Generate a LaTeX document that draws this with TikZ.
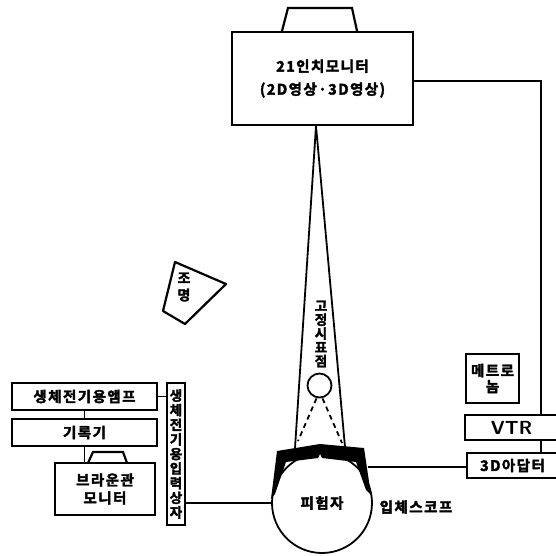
\documentclass[tikz,border=0pt]{standalone}
\usepackage{fontspec}
\newfontfamily\kr[FakeBold=2.5,LetterSpace=10]{Noto Sans CJK KR Bold}
\usetikzlibrary{calc}

\begin{document}
\begin{tikzpicture}[x=1pt,y=-1pt,
	box/.style={draw,line width=2.2pt,inner sep=0pt,align=center,font=\kr\fontsize{14.5}{16}\selectfont},
	lbl/.style={inner sep=0pt,align=center,font=\kr\fontsize{14.5}{16}\selectfont},
	wire/.style={line width=1.8pt},
	ring/.style={draw,circle,line width=1.8pt,inner sep=0pt}]

	\useasboundingbox (0,0) rectangle (556,556);
	\clip (0,0) rectangle (556,556);


	\node[box,minimum width=181,minimum height=93] (monitor) at (322.5,78.5) {21인치모니터\\[7pt](2D영상·3D영상)};
	\draw[line width=2.2pt] (282,31) -- (288,8) -- (352,8) -- (357,31);

	\draw[line width=2.2pt,line join=round] (175,262) -- (226,284) -- (185,324) -- (163,311) -- cycle;
	\node[lbl,font=\kr\fontsize{14}{17}\selectfont] (light) at (184,287) {조\\명};


	\coordinate (apex) at (316,126);
	\coordinate (coneL) at (295,448);
	\coordinate (coneR) at (345,447);
	\draw[wire] (coneL) -- (apex) -- (coneR);
	\node[lbl,font=\kr\fontsize{13.5}{13.8}\selectfont] (target) at (321,334) {고\\정\\시\\표\\점};
	\node[ring,minimum size=24] (fix) at (319.5,385.5) {};
	\coordinate (eyeL) at (298,441);
	\coordinate (eyeR) at (342,443);
	\draw[wire,dash pattern=on 5pt off 4pt] ([xshift=-3pt]fix.south) -- (eyeL);
	\draw[wire,dash pattern=on 5pt off 4pt] ([xshift=3pt]fix.south) -- (eyeR);


	\node[ring,minimum size=100] (subject) at (322,503) {\kr\fontsize{14.5}{16}\selectfont 피험자};
	\fill (271,499) -- (277,451) -- (320,444) -- (364,448) -- (371,495) -- (366,490)
		-- (356,462) -- (322,458) -- (320,454) -- (318,458) -- (286,462) -- (275,494) -- cycle;
	\coordinate (scopeR) at (368,467);
	\node[lbl] (stereo) at (416,507) {입체스코프};


	\node[box,minimum width=53,minimum height=49] (metro) at (492.5,378.5) {메트로\\놈};
	\node[box,minimum width=93,minimum height=25,font=\fontsize{19}{20}\sffamily\bfseries] (vtr) at (511.5,427.5) {VTR};
	\node[box,minimum width=91,minimum height=25] (adapter) at (512.5,465.5) {3D아답터};
	\coordinate (feed) at (541,81);
	\draw[wire] (monitor.east |- feed) -- (feed) -- (feed |- vtr.north);
	\draw[wire] (vtr.south -| feed) -- (adapter.north -| feed);
	\draw[wire] (scopeR) -- (scopeR -| adapter.west);


	\node[box,minimum width=145,minimum height=27] (amp) at (84.5,396.5) {생체전기용앰프};
	\node[box,minimum width=145,minimum height=27] (rec) at (84.5,432.5) {기록기};
	\node[box,minimum width=100,minimum height=52] (braun) at (105,489) {브라운관\\[2pt]모니터};
	\draw[line width=2.2pt] (88,463) -- (93,452) -- (123,452) -- (127,463);
	\node[box,minimum width=18,minimum height=142,font=\kr\fontsize{13.5}{14.6}\selectfont] (input) at (176,454) {생\\체\\전\\기\\용\\입\\력\\상\\자};

	\draw[wire] (amp.south) -- (rec.north);
	\draw[wire] (rec.south) -- (rec.south |- braun.north);
	\draw[wire] (amp.east) -- (amp.east -| input.west);
	\draw[wire] (input.east |- subject) -- (subject.west);


\end{tikzpicture}
\end{document}
